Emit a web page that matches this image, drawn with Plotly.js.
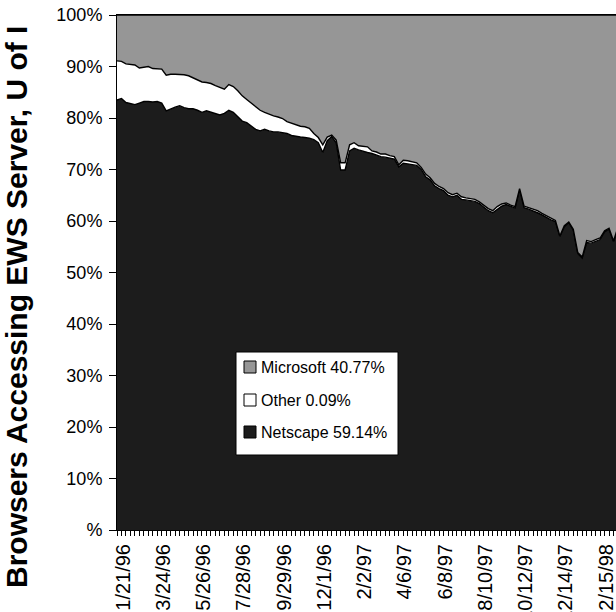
<!DOCTYPE html>
<html>
<head>
<meta charset="utf-8">
<script src="https://cdn.plot.ly/plotly-3.0.1.min.js"></script>
<style>
  html, body { margin: 0; padding: 0; overflow: hidden; background: #fff; }
  #chart { width: 640px; height: 660px; }
</style>
</head>
<body>
<div id="chart"></div>
<script>
// Weekly browser share (%) seen by the EWS web server, starting the week of 1/21/96
const firstWeek = Date.UTC(1996, 0, 21);
const weekCount = 113;

const tickLabels = ['1/21/96', '3/24/96', '5/26/96', '7/28/96', '9/29/96', '12/1/96', '2/2/97',
  '4/6/97', '6/8/97', '8/10/97', '10/12/97', '12/14/97', '2/15/98'];

const yTickValues = [0, 10, 20, 30, 40, 50, 60, 70, 80, 90, 100];
const yTickLabels = ['%', '10%', '20%', '30%', '40%', '50%', '60%', '70%', '80%', '90%', '100%'];

const netscape = [
  83.5, 83.8, 83.0, 82.8, 82.6, 82.9, 83.2, 83.2, 83.1, 83.2,
  82.9, 81.4, 81.8, 82.1, 82.4, 82.0, 81.8, 81.8, 81.5, 81.1,
  81.4, 81.1, 80.9, 80.6, 80.9, 81.5, 81.1, 80.2, 79.4, 79.1,
  78.5, 77.8, 77.5, 77.8, 77.5, 77.3, 77.3, 77.2, 77.0, 76.6,
  76.4, 76.3, 76.2, 76.1, 75.8, 75.2, 73.3, 75.6, 76.4, 75.2,
  69.9, 69.9, 73.6, 74.1, 73.8, 73.5, 73.3, 73.1, 72.8, 72.5,
  72.4, 72.2, 72.0, 70.5, 71.2, 71.1, 71.0, 70.8, 70.0, 68.6,
  68.0, 66.8, 66.3, 65.9, 65.0, 64.7, 65.0, 64.2, 64.1, 64.0,
  63.8, 63.4, 62.7, 62.0, 61.6, 62.3, 62.9, 63.2, 62.8, 62.5,
  66.2, 62.6, 62.3, 62.0, 61.6, 61.2, 60.7, 60.2, 59.9, 57.0,
  58.9, 59.7, 58.3, 53.7, 52.8, 55.8, 55.7, 56.1, 56.4, 57.9,
  58.4, 56.0, 58.6
];

const other = [
  7.6, 7.2, 7.5, 7.6, 7.7, 6.8, 6.6, 6.8, 6.5, 6.4,
  6.6, 6.9, 6.7, 6.4, 6.1, 6.4, 6.4, 6.0, 5.8, 5.9,
  5.5, 5.6, 5.4, 5.4, 4.7, 5.0, 5.0, 5.1, 4.9, 4.5,
  4.4, 4.3, 4.0, 3.3, 3.2, 3.1, 2.9, 2.7, 2.3, 2.4,
  2.3, 2.1, 2.1, 1.9, 1.2, 1.0, 1.5, 0.7, 0.3, 0.5,
  1.4, 1.4, 1.2, 1.1, 0.8, 1.0, 1.1, 0.5, 0.6, 0.5,
  0.6, 0.5, 0.5, 0.4, 0.6, 0.6, 0.5, 0.5, 0.4, 0.5,
  0.4, 0.5, 0.4, 0.4, 0.5, 0.4, 0.4, 0.5, 0.4, 0.4,
  0.4, 0.3, 0.4, 0.4, 0.4, 0.5, 0.4, 0.3, 0.3, 0.3,
  0.1, 0.3, 0.3, 0.3, 0.4, 0.3, 0.3, 0.3, 0.2, 0.1,
  0.2, 0.1, 0.1, 0.2, 0.2, 0.4, 0.3, 0.3, 0.3, 0.2,
  0.2, 0.1, 0.2
];

const microsoft = [
  8.9, 9.0, 9.5, 9.6, 9.7, 10.3, 10.2, 10.0, 10.4, 10.4,
  10.5, 11.7, 11.5, 11.5, 11.5, 11.6, 11.8, 12.2, 12.7, 13.0,
  13.1, 13.3, 13.7, 14.0, 14.4, 13.5, 13.9, 14.7, 15.7, 16.4,
  17.1, 17.9, 18.5, 18.9, 19.3, 19.6, 19.8, 20.1, 20.7, 21.0,
  21.3, 21.6, 21.7, 22.0, 23.0, 23.8, 25.2, 23.7, 23.3, 24.3,
  28.7, 28.7, 25.2, 24.8, 25.4, 25.5, 25.6, 26.4, 26.6, 27.0,
  27.0, 27.3, 27.5, 29.1, 28.2, 28.3, 28.5, 28.7, 29.6, 30.9,
  31.6, 32.7, 33.3, 33.7, 34.5, 34.9, 34.6, 35.3, 35.5, 35.6,
  35.8, 36.3, 36.9, 37.6, 38.0, 37.2, 36.7, 36.5, 36.9, 37.2,
  33.7, 37.1, 37.4, 37.7, 38.0, 38.5, 39.0, 39.5, 39.9, 42.9,
  40.9, 40.2, 41.6, 46.1, 47.0, 43.8, 44.0, 43.6, 43.3, 41.9,
  41.4, 43.9, 41.2
];

const legendNames = ['Microsoft 40.77%', 'Other 0.09%', 'Netscape 59.14%'];
const legendColors = ['#969696', '#ffffff', '#1c1c1c'];
const seriesColors = { microsoft: '#969696', other: '#ffffff', netscape: '#1c1c1c' };

// Week dates as M/D/YY category names
const weeks = [];
for (let i = 0; i < weekCount; i++) {
  const d = new Date(firstWeek + i * 7 * 86400000);
  weeks.push((d.getUTCMonth() + 1) + '/' + d.getUTCDate() + '/' + String(d.getUTCFullYear()).slice(2));
}
const weekText = weeks.map(w => tickLabels.includes(w) ? w : '');

const FONT = 'Liberation Sans, Arial, Helvetica, sans-serif';
const W = 640, H = 660;
const M = { l: 117, r: 22, t: 15, b: 130 };
const plotW = W - M.l - M.r, plotH = H - M.t - M.b;
// pixel -> paper helpers for the boxed key
const px = p => (p - M.l) / plotW;
const py = p => (H - M.b - p) / plotH;

const edge = { color: '#000000', width: 1.4 };

function area(values, color, name) {
  return {
    type: 'scatter', mode: 'lines', x: weeks, y: values, name: name,
    stackgroup: 'share', fillcolor: color, line: edge,
    showlegend: false, hoverinfo: 'skip'
  };
}

const data = [
  area(netscape, seriesColors.netscape, 'Netscape'),
  area(other, seriesColors.other, 'Other'),
  area(microsoft, seriesColors.microsoft, 'Microsoft')
];

// Boxed key inside the plot
const key = { left: 236, right: 398, top: 352, bottom: 455, rows: [367, 400, 432], sw: 12, sx: 250, tx: 259 };
const shapes = [{
  type: 'rect', xref: 'paper', yref: 'paper',
  x0: px(key.left), x1: px(key.right), y0: py(key.bottom), y1: py(key.top),
  fillcolor: '#ffffff', line: { color: '#000', width: 1 }, layer: 'above'
}];
const annotations = [];
legendNames.forEach((name, k) => {
  const cy = key.rows[k];
  shapes.push({
    type: 'rect', xref: 'paper', yref: 'paper',
    x0: px(key.sx - key.sw / 2), x1: px(key.sx + key.sw / 2),
    y0: py(cy + key.sw / 2), y1: py(cy - key.sw / 2),
    fillcolor: legendColors[k], line: { color: '#000', width: 1 }, layer: 'above'
  });
  annotations.push({
    text: name, xref: 'paper', yref: 'paper', x: px(key.tx), y: py(cy),
    xanchor: 'left', yanchor: 'middle', showarrow: false,
    font: { family: FONT, size: 16, color: '#000' }
  });
});

annotations.push({
  text: '<b>Browsers Accessing EWS Server, U of I</b>',
  xref: 'paper', yref: 'paper', x: px(17), y: py(307),
  xanchor: 'center', yanchor: 'middle', textangle: -90, showarrow: false,
  font: { family: FONT, size: 30, color: '#000' }
});

const layout = {
  width: W, height: H,
  margin: M,
  paper_bgcolor: '#ffffff', plot_bgcolor: '#ffffff',
  font: { family: FONT, size: 18, color: '#000' },
  showlegend: false,
  xaxis: {
    type: 'category', range: [0, weekCount - 1],
    tickmode: 'array', tickvals: weeks, ticktext: weekText,
    tickangle: -90, ticks: 'outside', ticklen: 5, tickcolor: '#000', tickwidth: 1,
    ticklabelshift: 6,
    tickfont: { family: FONT, size: 20 },
    showline: true, linecolor: '#000', linewidth: 1, mirror: true,
    showgrid: false, zeroline: false, fixedrange: true
  },
  yaxis: {
    range: [0, 100],
    tickmode: 'array', tickvals: yTickValues, ticktext: yTickLabels,
    ticks: 'outside', ticklen: 7, tickcolor: '#000', tickwidth: 1,
    ticklabelstandoff: 3,
    tickfont: { family: FONT, size: 18 },
    showline: true, linecolor: '#000', linewidth: 1,
    showgrid: false, zeroline: false, fixedrange: true
  },
  shapes: shapes,
  annotations: annotations
};

Plotly.newPlot('chart', data, layout, { staticPlot: true, displayModeBar: false });
</script>
</body>
</html>
